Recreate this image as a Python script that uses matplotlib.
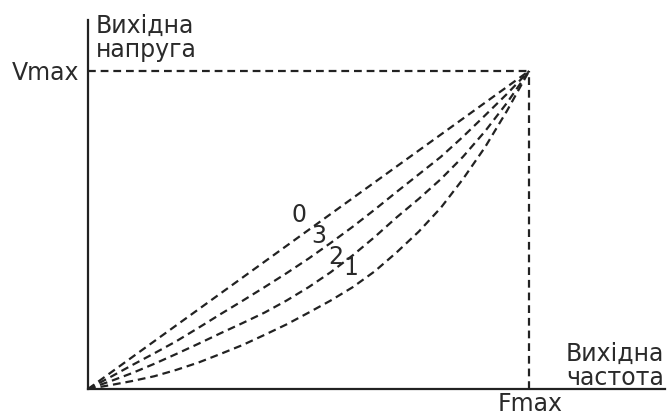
import matplotlib
matplotlib.use("Agg")
import matplotlib.pyplot as plt

plt.rcParams['font.family'] = ['DejaVu Sans']

# Relative output frequency (fraction of Fmax)
freq = [0.0, 0.05, 0.1, 0.15, 0.2, 0.25, 0.3, 0.35, 0.4, 0.45, 0.5,
        0.55, 0.6, 0.65, 0.7, 0.75, 0.8, 0.85, 0.9, 0.95, 1.0]
# Relative output voltage (fraction of Vmax) for each V/f curve
curve_0 = [0.0, 0.05, 0.1, 0.15, 0.2, 0.25, 0.3, 0.35, 0.4, 0.45, 0.5,
           0.55, 0.6, 0.65, 0.7, 0.75, 0.8, 0.85, 0.9, 0.95, 1.0]
curve_3 = [0.0, 0.037, 0.075, 0.112, 0.15, 0.192, 0.235, 0.277, 0.32, 0.364, 0.41,
           0.459, 0.51, 0.564, 0.62, 0.675, 0.73, 0.793, 0.86, 0.928, 1.0]
curve_2 = [0.0, 0.024, 0.05, 0.079, 0.11, 0.142, 0.175, 0.207, 0.24, 0.278, 0.32,
           0.367, 0.42, 0.478, 0.54, 0.598, 0.66, 0.73, 0.81, 0.9, 1.0]
curve_1 = [0.0, 0.012, 0.025, 0.04, 0.06, 0.083, 0.11, 0.138, 0.17, 0.203, 0.24,
           0.278, 0.32, 0.37, 0.43, 0.495, 0.57, 0.66, 0.76, 0.875, 1.0]

curve_names = ['0', '3', '2', '1']
label_pos_x = [0.478, 0.524, 0.562, 0.596]
label_pos_y = [0.547, 0.481, 0.415, 0.381]

ink = '#222222'
txt = '#2a2a2a'
fs = 17

fig = plt.figure(figsize=(6.7, 4.19), dpi=100)
ax = fig.add_axes([88/670, 30/419, 577/670, 369/419])
ax.set_xlim(0, 1.308)
ax.set_ylim(0, 1.16)

for spine in ['top', 'right']:
    ax.spines[spine].set_visible(False)
for spine in ['left', 'bottom']:
    ax.spines[spine].set_linewidth(1.6)
    ax.spines[spine].set_color(ink)
ax.set_xticks([])
ax.set_yticks([])

dash = (0, (3.5, 2.2))
for ys in [curve_0, curve_3, curve_2, curve_1]:
    ax.plot(freq, ys, color=ink, lw=1.6, linestyle=dash, dash_capstyle='butt')

ax.plot([0, 1], [1, 1], color=ink, lw=1.6, linestyle=dash)
ax.plot([1, 1], [0, 1], color=ink, lw=1.6, linestyle=dash)

for name, lx, ly in zip(curve_names, label_pos_x, label_pos_y):
    ax.text(lx, ly, name, ha='center', va='center', fontsize=fs, color=txt)

# axis annotations
kw = dict(fontsize=fs, color=txt)
fig.text(79/670, 1 - 73/419, 'Vmax', ha='right', va='center', **kw)
fig.text(530/670, 1 - 404/419, 'Fmax', ha='center', va='center', **kw)
fig.text(96/670, 1 - 38/419, 'Вихідна\nнапруга', ha='left', va='center',
         linespacing=1.0, **kw)
fig.text(664/670, 1 - 366/419, 'Вихідна\nчастота', ha='right', va='center',
         linespacing=1.0, multialignment='right', **kw)

fig.savefig('out.png', dpi=100)
